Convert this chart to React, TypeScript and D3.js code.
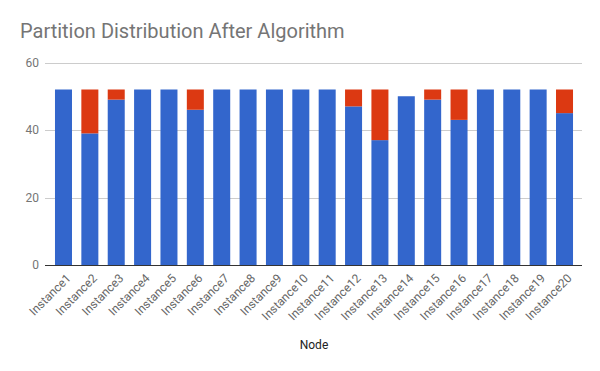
import React, { useEffect, useRef } from 'react';
import * as d3 from 'd3';

const nodes = [
  'Instance1', 'Instance2', 'Instance3', 'Instance4', 'Instance5',
  'Instance6', 'Instance7', 'Instance8', 'Instance9', 'Instance10',
  'Instance11', 'Instance12', 'Instance13', 'Instance14', 'Instance15',
  'Instance16', 'Instance17', 'Instance18', 'Instance19', 'Instance20',
];
// blue segment (bottom)
const primary = [52, 39, 49, 52, 52, 46, 52, 52, 52, 52, 52, 47, 37, 50, 49, 43, 52, 52, 52, 45];
// red segment (top)
const moved = [0, 13, 3, 0, 0, 6, 0, 0, 0, 0, 0, 5, 15, 0, 3, 9, 0, 0, 0, 7];
const yTicks = [0, 20, 40, 60];

const App = () => {
  const ref = useRef<SVGSVGElement | null>(null);

  useEffect(() => {
    if (!ref.current) return;
    const svg = d3.select(ref.current);
    svg.selectAll('*').remove();

    const font = 'Roboto, Arial, sans-serif';
    const x = d3.scaleBand<string>()
      .domain(nodes)
      .range([50.3, 577.7])
      .paddingInner(0.355)
      .paddingOuter(0.1775);
    const y = d3.scaleLinear().domain([0, 60]).range([265, 62.5]);

    svg.append('rect').attr('width', 600).attr('height', 371).attr('fill', '#fff');

    // title
    svg.append('text')
      .attr('x', 20)
      .attr('y', 38)
      .attr('font-family', font)
      .attr('font-size', 20)
      .attr('fill', '#757575')
      .text('Partition Distribution After Algorithm');

    // gridlines + y labels
    const grid = svg.append('g');
    yTicks.forEach((t) => {
      grid.append('line')
        .attr('x1', 45).attr('x2', 582)
        .attr('y1', Math.round(y(t)) + 0.5).attr('y2', Math.round(y(t)) + 0.5)
        .attr('stroke', t === 0 ? '#333' : '#ccc')
        .attr('stroke-width', 1);
      grid.append('text')
        .attr('x', 39)
        .attr('y', y(t))
        .attr('dy', '0.35em')
        .attr('text-anchor', 'end')
        .attr('font-family', font)
        .attr('font-size', 12)
        .attr('fill', '#757575')
        .text(t);
    });

    const stack = d3.stack<number>().keys(['a', 'b'])
      .value((i, key) => (key === 'a' ? primary[i] : moved[i]));
    const series = stack(d3.range(nodes.length));
    const colors = ['#3366cc', '#dc3912'];

    series.forEach((s, k) => {
      svg.append('g')
        .selectAll('rect')
        .data(s)
        .enter()
        .filter((d) => d[1] > d[0])
        .append('rect')
        .attr('x', (d) => x(nodes[d.data])!)
        .attr('width', x.bandwidth())
        .attr('y', (d) => y(d[1]))
        .attr('height', (d) => y(d[0]) - y(d[1]))
        .attr('fill', colors[k]);
    });

    // baseline on top
    svg.append('line')
      .attr('x1', 45).attr('x2', 582)
      .attr('y1', Math.round(y(0)) + 0.5).attr('y2', Math.round(y(0)) + 0.5)
      .attr('stroke', '#333');

    // x labels
    nodes.forEach((n) => {
      const cx = x(n)! + x.bandwidth() / 2;
      svg.append('text')
        .attr('transform', `translate(${cx + 5},${276}) rotate(-45)`)
        .attr('text-anchor', 'end')
        .attr('dy', '0.35em')
        .attr('font-family', font)
        .attr('font-size', 12)
        .attr('fill', '#666')
        .text(n);
    });

    svg.append('text')
      .attr('x', 314)
      .attr('y', 349)
      .attr('text-anchor', 'middle')
      .attr('font-family', font)
      .attr('font-size', 12)
      .attr('fill', '#222')
      .text('Node');
  }, []);

  return (
    <svg
      ref={ref}
      width={600}
      height={371}
      style={{ position: 'absolute', left: 0, top: 0 }}
    />
  );
};

export default App;
